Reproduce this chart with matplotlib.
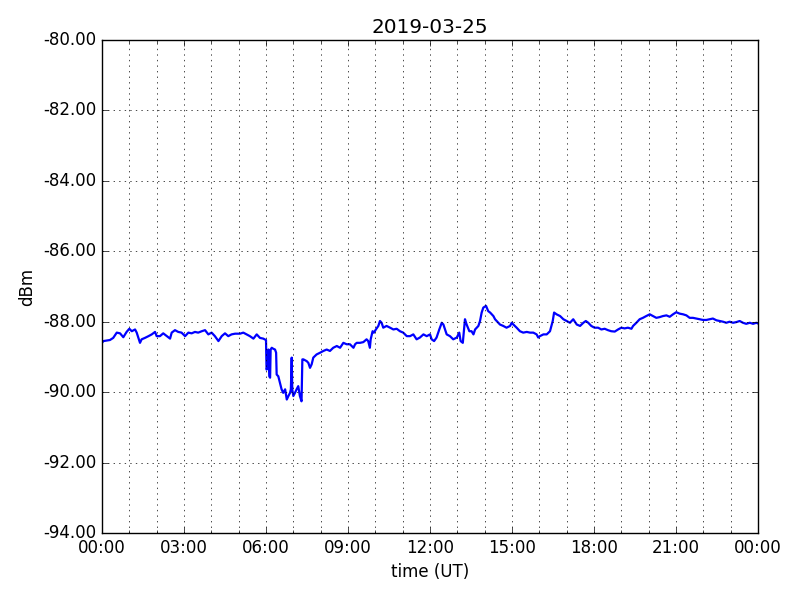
import pandas as pd
import numpy as np
import matplotlib
matplotlib.use('Agg')
import matplotlib.pyplot as plt
import matplotlib.dates as mdates
from matplotlib.ticker import FormatStrFormatter, MultipleLocator

# hours after midnight (UT) and received level in dBm
hours = [0.0, 0.05, 0.29, 0.41, 0.54, 0.66, 0.78, 0.90, 1.0, 1.09, 1.21, 1.27, 1.33, 1.39, 1.45,
         1.57, 1.70, 1.82, 1.94, 2.0, 2.12, 2.24, 2.37, 2.49, 2.55, 2.67, 2.79, 2.91, 3.04, 3.16,
         3.28, 3.40, 3.52, 3.65, 3.77, 3.89, 4.01, 4.13, 4.26, 4.38, 4.50, 4.62, 4.74, 4.87, 5.05,
         5.17, 5.29, 5.41, 5.54, 5.66, 5.78, 5.90, 6.0, 6.02, 6.05, 6.09, 6.12, 6.15, 6.17, 6.21,
         6.27, 6.33, 6.37, 6.39, 6.45, 6.51, 6.57, 6.63, 6.70, 6.76, 6.82, 6.88, 6.91, 6.94, 6.96,
         7.0, 7.06, 7.12, 7.18, 7.24, 7.30, 7.33, 7.37, 7.49, 7.55, 7.61, 7.67, 7.73, 7.85, 7.98,
         8.10, 8.22, 8.34, 8.46, 8.59, 8.71, 8.83, 8.95, 9.07, 9.20, 9.26, 9.32, 9.44, 9.56, 9.68,
         9.74, 9.80, 9.83, 9.90, 9.95, 10.02, 10.11, 10.17, 10.23, 10.29, 10.41, 10.54, 10.66, 10.78,
         10.90, 11.02, 11.15, 11.27, 11.39, 11.51, 11.63, 11.76, 11.88, 12.0, 12.06, 12.15, 12.24,
         12.34, 12.43, 12.49, 12.55, 12.61, 12.73, 12.85, 12.98, 13.07, 13.12, 13.20, 13.28, 13.34,
         13.44, 13.52, 13.59, 13.65, 13.71, 13.77, 13.83, 13.89, 13.95, 14.05, 14.13, 14.20, 14.32,
         14.38, 14.44, 14.56, 14.68, 14.80, 14.93, 14.99, 15.05, 15.17, 15.29, 15.41, 15.54, 15.66,
         15.78, 15.90, 15.96, 16.02, 16.15, 16.27, 16.39, 16.49, 16.54, 16.63, 16.76, 16.88, 17.0,
         17.12, 17.24, 17.37, 17.49, 17.61, 17.70, 17.79, 17.90, 18.02, 18.15, 18.27, 18.39, 18.51,
         18.63, 18.76, 18.88, 19.0, 19.12, 19.24, 19.37, 19.43, 19.55, 19.67, 19.79, 19.91, 20.04,
         20.16, 20.28, 20.40, 20.52, 20.65, 20.77, 20.89, 21.01, 21.13, 21.26, 21.38, 21.50, 21.62,
         21.74, 21.87, 21.99, 22.11, 22.23, 22.35, 22.48, 22.60, 22.72, 22.84, 22.96, 23.09, 23.21,
         23.33, 23.45, 23.57, 23.70, 23.82, 23.94, 24.0]
dbm = [-88.6, -88.55, -88.52, -88.46, -88.31, -88.33, -88.44, -88.29, -88.2, -88.27, -88.22, -88.31,
       -88.46, -88.6, -88.5, -88.46, -88.41, -88.36, -88.29, -88.41, -88.41, -88.33, -88.41, -88.48,
       -88.31, -88.24, -88.29, -88.31, -88.41, -88.31, -88.33, -88.29, -88.31, -88.27, -88.24, -88.36,
       -88.31, -88.41, -88.55, -88.41, -88.33, -88.41, -88.36, -88.34, -88.34, -88.31, -88.36, -88.41,
       -88.48, -88.36, -88.46, -88.48, -88.52, -89.36, -89.31, -88.79, -89.55, -89.59, -88.79, -88.74,
       -88.77, -88.79, -88.88, -89.5, -89.55, -89.73, -89.92, -90.02, -89.92, -90.21, -90.11, -90.02,
       -89.92, -89.02, -89.92, -90.11, -90.02, -89.92, -89.83, -90.11, -90.26, -89.07, -89.07, -89.12,
       -89.17, -89.31, -89.21, -89.02, -88.93, -88.88, -88.83, -88.79, -88.83, -88.74, -88.69, -88.74,
       -88.6, -88.64, -88.64, -88.74, -88.64, -88.6, -88.6, -88.58, -88.5, -88.55, -88.74, -88.5,
       -88.27, -88.31, -88.22, -88.12, -87.98, -88.03, -88.17, -88.12, -88.17, -88.22, -88.2, -88.27,
       -88.31, -88.41, -88.41, -88.36, -88.5, -88.45, -88.36, -88.41, -88.36, -88.5, -88.55, -88.45,
       -88.22, -88.03, -88.08, -88.22, -88.36, -88.41, -88.5, -88.45, -88.31, -88.55, -88.6, -87.93,
       -88.08, -88.27, -88.27, -88.36, -88.22, -88.17, -88.12, -87.98, -87.74, -87.6, -87.55, -87.7,
       -87.74, -87.84, -87.93, -87.98, -88.08, -88.12, -88.17, -88.12, -88.03, -88.08, -88.17, -88.27,
       -88.31, -88.29, -88.31, -88.31, -88.36, -88.45, -88.41, -88.36, -88.36, -88.27, -87.98, -87.74,
       -87.79, -87.84, -87.93, -87.98, -88.03, -87.93, -88.08, -88.12, -88.03, -87.98, -88.03, -88.12,
       -88.17, -88.17, -88.22, -88.2, -88.24, -88.27, -88.28, -88.22, -88.17, -88.19, -88.17, -88.2,
       -88.12, -88.03, -87.93, -87.89, -87.84, -87.79, -87.84, -87.89, -87.87, -87.84, -87.82, -87.86,
       -87.79, -87.73, -87.77, -87.79, -87.82, -87.89, -87.89, -87.91, -87.93, -87.95, -87.95, -87.93,
       -87.91, -87.96, -87.98, -88.0, -88.03, -88.0, -88.03, -88.01, -87.98, -88.03, -88.06, -88.03,
       -88.06, -88.03, -88.05]

plt.style.use('classic')
day = pd.Timestamp('2019-03-25')
t = day + pd.to_timedelta(hours, unit='h')

fig = plt.figure(figsize=(8, 6), dpi=100, facecolor='white')
ax = fig.add_axes([0.1275, 0.1117, 0.82, 0.8216])
ax.plot(t, dbm, color='b', linewidth=1.6)

ax.set_xlim(day, day + pd.Timedelta(hours=24))
ax.set_ylim(-94, -80)
ax.xaxis.set_major_locator(mdates.HourLocator(byhour=range(0, 24, 3)))
ax.xaxis.set_minor_locator(mdates.HourLocator())
ax.xaxis.set_major_formatter(mdates.DateFormatter('%H:%M'))
ax.yaxis.set_major_locator(MultipleLocator(2))
ax.yaxis.set_major_formatter(FormatStrFormatter('%.2f'))
ax.grid(True, which='major', color='k', linestyle=':')
ax.xaxis.grid(True, which='minor', color='k', linestyle=':')

ax.set_title('2019-03-25')
ax.set_xlabel('time (UT)')
ax.set_ylabel('dBm')

plt.savefig('out.png', facecolor='white')
